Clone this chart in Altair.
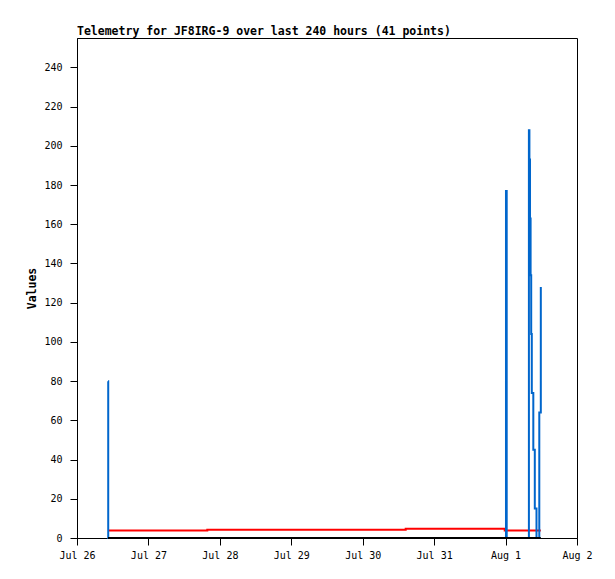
import json
import altair as alt
import pandas as pd

# Hours since Jul 26 00:00
hours = [10.42, 10.49, 43.78, 110.44, 143.71, 144.14, 144.38, 151.84, 152.01,
         152.21, 152.41, 152.61, 152.81, 153.32, 153.82, 154.39, 155.33, 155.84]
blue_values = [80, 0, 0, 0, 0, 177, 0, 208, 193, 163, 134, 104, 74, 45, 15, 0, 64, 128]
red_values = [3.8, 3.8, 4.2, 4.7, 3.8, 3.8, 3.8, 3.8, 3.8, 3.8, 3.8, 3.8, 3.8, 3.8, 3.8, 3.8, 3.8, 3.8]
black_values = [0, 0, 0, 0, 0, 0, 0, 0, 0, 0, 0, 0, 0, 0, 0, 0, 0, 0]

x_tick_hours = [0, 24, 48, 72, 96, 120, 144, 168]
x_tick_labels = ["Jul 26", "Jul 27", "Jul 28", "Jul 29", "Jul 30", "Jul 31", "Aug 1", "Aug 2"]
y_ticks = [0, 20, 40, 60, 80, 100, 120, 140, 160, 180, 200, 220, 240]

title_text = "Telemetry for JF8IRG-9 over last 240 hours (41 points)"

df = pd.DataFrame({"t": hours, "blue": blue_values, "red": red_values, "black": black_values})

FONT = "DejaVu Sans Mono"

x_enc = alt.X(
    "t:Q",
    scale=alt.Scale(domain=[0, 168], nice=False, zero=False),
    axis=alt.Axis(
        values=x_tick_hours,
        labelExpr=json.dumps(x_tick_labels) + "[round(datum.value/24)]",
        tickSize=7,
        labelPadding=5,
        grid=False,
        title=None,
        domainColor="black",
        tickColor="black",
        labelFlush=False,
        labelOverlap=False,
    ),
)

y_scale = alt.Scale(domain=[0, 255], nice=False, zero=True)
y_axis = alt.Axis(
    values=y_ticks,
    tickSize=7,
    labelPadding=8,
    grid=False,
    title="Values",
    titleFont=FONT,
    titleFontSize=11.5,
    titleFontWeight="bold",
    titleColor="black",
    titleX=-45,
    titleY=250,
    titleAlign="center",
    titleBaseline="middle",
    titleAngle=270,
    domainColor="black",
    tickColor="black",
    labelFlush=False,
    labelOverlap=False,
)

base = alt.Chart(df)

red = base.mark_line(interpolate="step-after", color="#ff0000", strokeWidth=2).encode(
    x=x_enc, y=alt.Y("red:Q", scale=y_scale, axis=y_axis)
)
blue = base.mark_line(interpolate="step-after", color="#0066cc", strokeWidth=2).encode(
    x=x_enc, y=alt.Y("blue:Q", scale=y_scale, axis=y_axis)
)
black = base.mark_line(interpolate="step-after", color="#000000", strokeWidth=2).encode(
    x=x_enc, y=alt.Y("black:Q", scale=y_scale, axis=y_axis)
)

chart = (
    alt.layer(red, blue, black)
    .properties(
        width=500,
        height=500,
        title=alt.TitleParams(
            title_text,
            anchor="start",
            frame="group",
            font=FONT,
            fontSize=11.5,
            fontWeight="bold",
            color="black",
            baseline="alphabetic",
            offset=-8,
        ),
        autosize=alt.AutoSizeParams(type="none"),
        padding={"left": 69, "top": 30, "right": 24, "bottom": 28},
        background="white",
    )
    .configure_view(stroke="black", strokeWidth=1)
    .configure_axis(labelFont=FONT, labelFontSize=10, labelColor="black", domainWidth=1, tickWidth=1)
)

chart.save("out.html", embed_options={"renderer": "svg", "actions": False})
